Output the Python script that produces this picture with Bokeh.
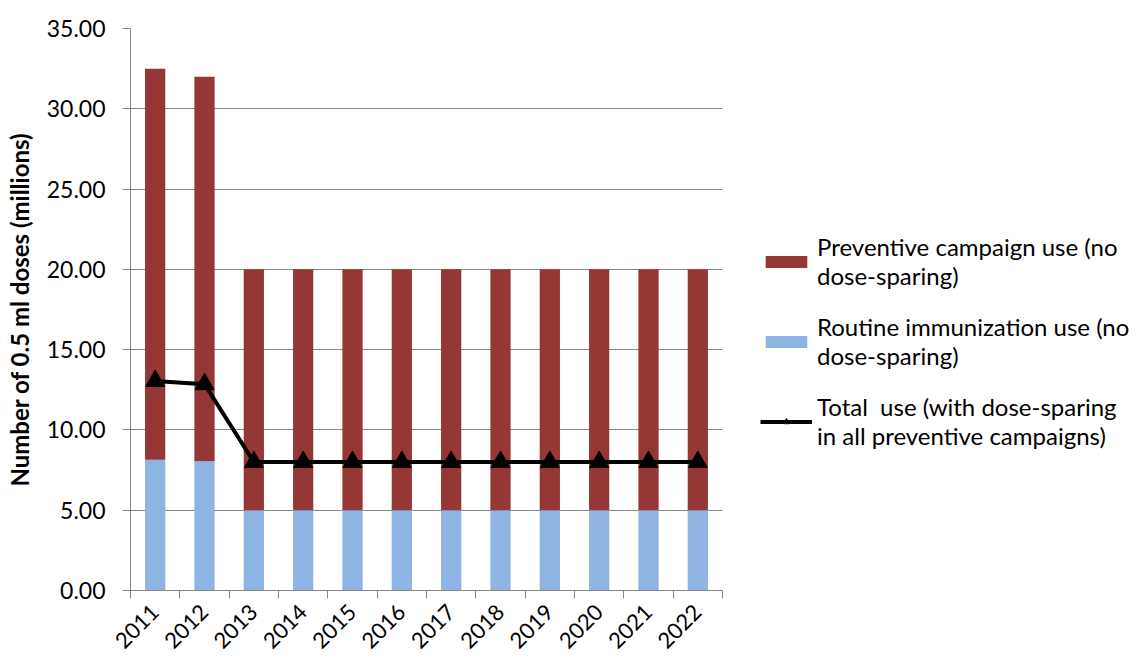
import math
from bokeh.plotting import figure
from bokeh.models import ColumnDataSource, Range1d, FixedTicker, Legend, LegendItem, NumeralTickFormatter
from bokeh.embed import file_html
from bokeh.resources import INLINE

years = ["2011", "2012", "2013", "2014", "2015", "2016", "2017", "2018", "2019", "2020", "2021", "2022"]
routine = [8.15, 8.05, 5.0, 5.0, 5.0, 5.0, 5.0, 5.0, 5.0, 5.0, 5.0, 5.0]
preventive = [24.35, 23.95, 15.0, 15.0, 15.0, 15.0, 15.0, 15.0, 15.0, 15.0, 15.0, 15.0]
total = [13.05, 12.85, 8.0, 8.0, 8.0, 8.0, 8.0, 8.0, 8.0, 8.0, 8.0, 8.0]
y_ticks = [0, 5, 10, 15, 20, 25, 30, 35]

xs = list(range(1, len(years) + 1))
src = ColumnDataSource(dict(x=xs, routine=routine, preventive=preventive, total=total))

FONT = "Lato"
p = figure(frame_width=592, frame_height=562, output_backend="svg", toolbar_location=None,
           x_range=Range1d(0.5, len(years) + 0.5), y_range=Range1d(0, 35),
           min_border_left=130, min_border_top=28, min_border_bottom=71, min_border_right=0)
p.outline_line_color = None
p.background_fill_color = "white"

r_stack = p.vbar_stack(["routine", "preventive"], x="x", width=0.41, source=src,
                       color=["#8EB4E3", "#953735"], line_color=None)
ln = p.line("x", "total", source=src, line_color="black", line_width=4)
mk = p.scatter("x", "total", source=src, marker="triangle", size=19, fill_color="black", line_color="black")

# axes
p.xgrid.grid_line_color = None
p.ygrid.grid_line_color = "#868686"
p.ygrid.grid_line_width = 1
p.yaxis.ticker = FixedTicker(ticks=y_ticks)
p.yaxis.formatter = NumeralTickFormatter(format="0.00")
p.yaxis.axis_line_color = "#868686"
p.yaxis.major_tick_line_color = "#868686"
p.yaxis.major_tick_out = 8
p.yaxis.major_tick_in = 0
p.yaxis.minor_tick_line_color = None
p.yaxis.major_label_text_font = FONT
p.yaxis.major_label_text_font_size = "23px"
p.yaxis.major_label_text_color = "black"
p.yaxis.major_label_standoff = 17
p.yaxis.axis_label = "Number of 0.5 ml doses (millions)"
p.yaxis.axis_label_text_font = FONT
p.yaxis.axis_label_text_font_size = "24px"
p.yaxis.axis_label_text_font_style = "bold"
p.yaxis.axis_label_text_color = "black"
p.yaxis.axis_label_standoff = 10

p.xaxis.ticker = FixedTicker(ticks=xs, minor_ticks=[i + 0.5 for i in range(0, len(years) + 1)])
p.xaxis.major_label_overrides = {x: y for x, y in zip(xs, years)}
p.xaxis.major_label_orientation = math.pi / 4
p.xaxis.major_label_text_font = FONT
p.xaxis.major_label_text_font_size = "22px"
p.xaxis.major_label_text_color = "black"
p.xaxis.major_tick_out = 0
p.xaxis.major_tick_in = 0
p.xaxis.minor_tick_out = 8
p.xaxis.minor_tick_in = 0
p.xaxis.minor_tick_line_color = "#868686"
p.xaxis.axis_line_color = "#868686"
p.xaxis.major_label_standoff = 10

legend = Legend(items=[
    LegendItem(label="Preventive campaign use (no\ndose-sparing)", renderers=[r_stack[1]]),
    LegendItem(label="Routine immunization use (no\ndose-sparing)", renderers=[r_stack[0]]),
    LegendItem(label="Total  use (with dose-sparing\nin all preventive campaigns)", renderers=[ln, mk]),
], location=(38, 140))
legend.label_text_font = FONT
legend.label_text_font_size = "24px"
legend.label_text_line_height = 1.25
legend.label_text_color = "black"
legend.glyph_width = 52
legend.glyph_height = 15
legend.spacing = 22
legend.border_line_color = None
legend.background_fill_alpha = 0
legend.margin = 19
legend.padding = 0
legend.label_standoff = 5
p.add_layout(legend, "right")

open("out.html", "w").write(file_html(p, INLINE))
